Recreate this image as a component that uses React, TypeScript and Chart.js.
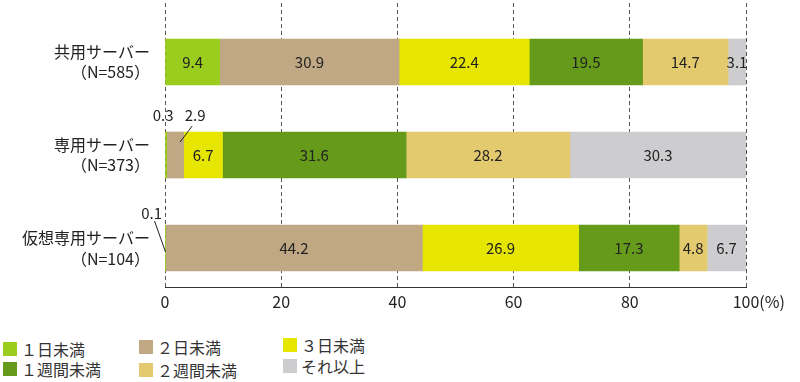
import React, { useEffect, useRef } from 'react';
import { Chart, registerables } from 'chart.js';

Chart.register(...registerables);

// ---- data ----
const CATEGORIES: string[][] = [
  ['共用サーバー', '（N=585）'],
  ['専用サーバー', '（N=373）'],
  ['仮想専用サーバー', '（N=104）'],
];
const SERIES_NAMES = ['１日未満', '２日未満', '３日未満', '１週間未満', '２週間未満', 'それ以上'];
const LESS_1_DAY = [9.4, 0.3, 0.1];
const LESS_2_DAYS = [30.9, 2.9, 44.2];
const LESS_3_DAYS = [22.4, 6.7, 26.9];
const LESS_1_WEEK = [19.5, 31.6, 17.3];
const LESS_2_WEEKS = [14.7, 28.2, 4.8];
const MORE_THAN = [3.1, 30.3, 6.7];
const X_TICKS = [0, 20, 40, 60, 80, 100];
const X_UNIT = '(%)';

const SERIES_VALUES = [LESS_1_DAY, LESS_2_DAYS, LESS_3_DAYS, LESS_1_WEEK, LESS_2_WEEKS, MORE_THAN];
const COLORS = ['#9ACD1E', '#BFA883', '#E6E600', '#659A1B', '#E4CA6F', '#CDCDCF'];

const FONT = '"Noto Sans CJK JP", "Noto Sans", sans-serif';

// legend slot placement (column-major 3x2 grid)
const LEGEND_POS = [
  { left: 3, top: 342 },
  { left: 139, top: 340 },
  { left: 283, top: 338 },
  { left: 3, top: 362 },
  { left: 139, top: 363 },
  { left: 283, top: 359 },
];

// labels of tiny segments drawn outside the bar (key: row-dataset)
const OUTSIDE: Record<string, { dx: number; dy: number; line?: number[] }> = {
  '1-0': { dx: -3, dy: -17 },
  '1-1': { dx: 20, dy: -17, line: [17, -6, 5, 10] },
  '2-0': { dx: -14, dy: -12, line: [-11, -4, 0, 27] },
};

const valueLabelPlugin = {
  id: 'valueLabels',
  afterDatasetsDraw(chart: any) {
    const ctx = chart.ctx;
    ctx.save();
    ctx.font = `15px ${FONT}`;
    ctx.fillStyle = '#222';
    ctx.strokeStyle = '#222';
    ctx.lineWidth = 1;
    ctx.textAlign = 'center';
    ctx.textBaseline = 'middle';
    chart.data.datasets.forEach((ds: any, di: number) => {
      const meta = chart.getDatasetMeta(di);
      meta.data.forEach((el: any, ri: number) => {
        const p = el.getProps(['x', 'y', 'base', 'height'], true);
        const cx = (p.x + p.base) / 2;
        const top = p.y - p.height / 2;
        const v = ds.data[ri].x;
        const txt = v.toFixed(1);
        const o = OUTSIDE[`${ri}-${di}`];
        if (o) {
          ctx.fillText(txt, cx + o.dx, top + o.dy);
          if (o.line) {
            ctx.beginPath();
            ctx.moveTo(cx + o.line[0], top + o.line[1]);
            ctx.lineTo(cx + o.line[2], top + o.line[3]);
            ctx.stroke();
          }
        } else {
          ctx.fillText(txt, cx, p.y);
        }
      });
    });
    ctx.restore();
  },
};

const unitPlugin = {
  id: 'xUnit',
  afterDraw(chart: any) {
    const xs = chart.scales.x;
    const items = xs.getLabelItems();
    const last = items[items.length - 1];
    if (!last) return;
    const ctx = chart.ctx;
    ctx.save();
    ctx.font = `16px ${FONT}`;
    const w = ctx.measureText(String(last.label)).width;
    ctx.fillStyle = '#222';
    ctx.textAlign = 'left';
    ctx.textBaseline = last.options.textBaseline;
    const [tx, ty] = last.options.translation;
    ctx.fillText(X_UNIT, tx + w / 2, ty + last.textOffset);
    ctx.restore();
  },
};

export default function App() {
  const ref = useRef<HTMLCanvasElement | null>(null);

  useEffect(() => {
    if (!ref.current) return;
    const chart = new Chart(ref.current, {
      type: 'bar',
      data: {
        datasets: SERIES_NAMES.map((name, i) => ({
          label: name,
          data: SERIES_VALUES[i].map((v, r) => ({ x: v, y: r })),
          backgroundColor: COLORS[i],
          borderWidth: 0,
          barThickness: 46,
        })),
      },
      options: {
        indexAxis: 'y',
        animation: false,
        responsive: true,
        maintainAspectRatio: false,
        layout: { padding: { top: 3, right: 54, bottom: 3, left: 0 } },
        plugins: { legend: { display: false }, tooltip: { enabled: false } },
        scales: {
          x: {
            type: 'linear',
            stacked: true,
            min: 0,
            max: 100,
            afterBuildTicks: (s: any) => {
              s.ticks = X_TICKS.map((v) => ({ value: v }));
            },
            afterFit: (s: any) => {
              s.height = 30;
            },
            ticks: {
              color: '#222',
              padding: 5,
              font: { family: FONT, size: 16 },
              callback: (v: any) => String(v),
            },
            grid: { display: true, color: '#555', lineWidth: 1, drawTicks: false },
            border: { display: true, color: '#333', width: 1, dash: [4, 3] },
          },
          y: {
            type: 'linear',
            stacked: true,
            reverse: true,
            offset: false,
            bounds: 'data',
            min: -0.634,
            max: 2.419,
            afterBuildTicks: (s: any) => {
              s.ticks = CATEGORIES.map((_, i) => ({ value: i }));
            },
            afterFit: (s: any) => {
              s.width = 165;
              s.paddingTop = 0;
              s.paddingBottom = 0;
            },
            ticks: {
              autoSkip: false,
              color: '#222',
              padding: 15,
              font: { family: FONT, size: 16, lineHeight: 1.3 },
              callback: (v: any) => CATEGORIES[v] ?? '',
            },
            grid: { display: false, drawTicks: false, offset: false },
            border: { display: false },
          },
        },
      } as any,
      plugins: [valueLabelPlugin, unitPlugin],
    });
    return () => chart.destroy();
  }, []);

  return (
    <div style={{ position: 'fixed', left: 0, top: 0, width: 800, height: 382, background: '#fff', fontFamily: FONT }}>
      <div style={{ position: 'absolute', left: 0, top: 0, width: 800, height: 320 }}>
        <canvas ref={ref} />
      </div>
      {SERIES_NAMES.map((name, i) => (
        <div
          key={name}
          style={{
            position: 'absolute',
            left: LEGEND_POS[i].left,
            top: LEGEND_POS[i].top,
            height: 14,
            display: 'flex',
            alignItems: 'center',
            whiteSpace: 'nowrap',
          }}
        >
          <span style={{ display: 'inline-block', width: 14, height: 14, background: COLORS[i] }} />
          <span style={{ marginLeft: 4, fontSize: 16, color: '#333', lineHeight: '14px' }}>{name}</span>
        </div>
      ))}
    </div>
  );
}
